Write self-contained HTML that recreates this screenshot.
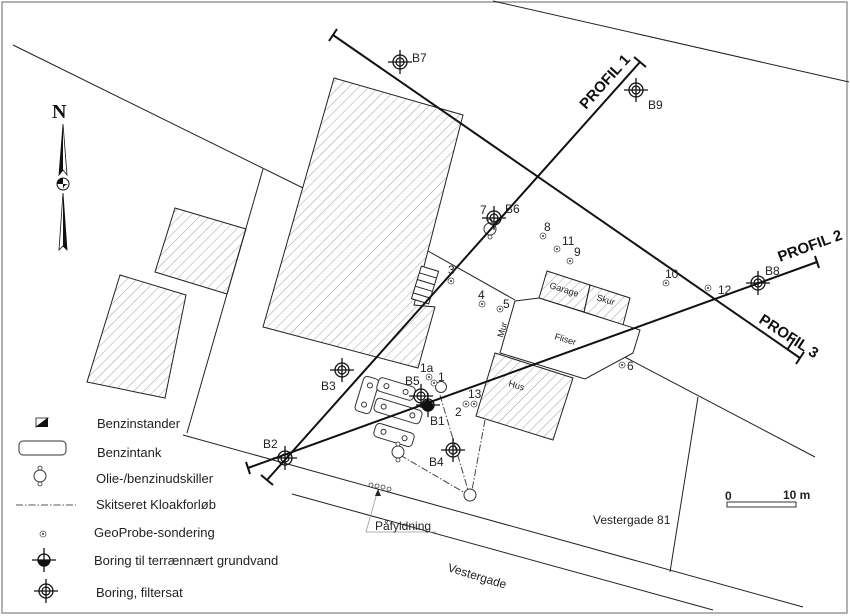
<!DOCTYPE html>
<html><head><meta charset="utf-8"><style>
html,body{margin:0;padding:0;background:#fff}
svg{display:block}
text{font-family:"Liberation Sans",sans-serif;fill:#222}
</style></head><body>
<svg width="850" height="616" viewBox="0 0 850 616" xmlns="http://www.w3.org/2000/svg">
<defs>
<pattern id="h" patternUnits="userSpaceOnUse" width="7" height="7" patternTransform="rotate(45)">
<line x1="0" y1="0" x2="0" y2="7" stroke="#888" stroke-width="0.8"/>
</pattern>
<g id="bf"><circle r="7" fill="none" stroke="#111" stroke-width="1.3"/><circle r="4" fill="none" stroke="#111" stroke-width="1.2"/><line x1="-12" y1="0" x2="12" y2="0" stroke="#111" stroke-width="1.3"/><line x1="0" y1="-12" x2="0" y2="12" stroke="#111" stroke-width="1.3"/></g>
<g id="gp"><circle r="3" fill="#fff" stroke="#555" stroke-width="0.8"/><circle r="1" fill="#333"/></g>
<g id="sep"><circle r="6" fill="#fff" stroke="#333" stroke-width="1"/><circle cy="-8" r="2" fill="#fff" stroke="#333" stroke-width="0.8"/><circle cy="8" r="2" fill="#fff" stroke="#333" stroke-width="0.8"/></g>
</defs>
<rect x="2" y="2" width="845" height="611" fill="#fff" stroke="#999" stroke-width="1.5"/>
<g stroke="#222" stroke-width="1" fill="none">
<line x1="13" y1="45" x2="303" y2="188"/>
<line x1="493" y1="1" x2="849" y2="82"/>
<line x1="263" y1="169" x2="187" y2="433"/>
<line x1="183" y1="435" x2="803" y2="607"/>
<line x1="292" y1="494" x2="713" y2="610"/>
<line x1="698" y1="397" x2="670" y2="572"/>
<line x1="617" y1="353" x2="815" y2="457"/>
<line x1="428" y1="251" x2="515" y2="300"/>
</g>
<g stroke="#222" stroke-width="1" fill="url(#h)">
<polygon points="334,78 463,115 414,305 435,307 418,368 263,327"/>
<polygon points="175,208 246,229 227,294 155,272"/>
<polygon points="120,275 186,295 165,398 87,382"/>
<polygon points="547,271 590,285 584,312 539,298"/>
<polygon points="590,285 630,298 623,325 584,312"/>
<polygon points="495,353 573,378 553,440 476,416"/>
</g>
<polygon points="515,301 539,298 640,330 633,353 585,379 500,353" fill="#fff" stroke="#222" stroke-width="1"/>
<g transform="translate(425,285) rotate(17)" stroke="#222" fill="#fff" stroke-width="1">
<rect x="-9" y="-17" width="18" height="34"/>
<line x1="-9" y1="-10" x2="9" y2="-10"/><line x1="-9" y1="-3" x2="9" y2="-3"/><line x1="-9" y1="4" x2="9" y2="4"/><line x1="-9" y1="11" x2="9" y2="11"/>
</g>
<!-- tanks -->
<g stroke="#333" fill="#fff" stroke-width="1">
<g transform="translate(367,395) rotate(17)"><rect x="-8" y="-18" width="16" height="36" rx="4"/><circle cy="-10" r="2.5"/><circle cy="10" r="2.5"/></g>
<g transform="translate(396,389) rotate(17)"><rect x="-19" y="-7" width="38" height="14" rx="4"/><circle cx="-10" r="2.5"/><circle cx="10" r="2.5"/></g>
<g transform="translate(398,411) rotate(17)"><rect x="-24" y="-7" width="48" height="14" rx="4"/><circle cx="-15" r="2.5"/><circle cx="15" r="2.5"/></g>
<g transform="translate(394,435) rotate(17)"><rect x="-20" y="-7" width="40" height="14" rx="4"/><circle cx="-11" r="2.5"/><circle cx="11" r="2.5"/></g>
</g>
<!-- sewer -->
<g stroke="#444" stroke-width="1" stroke-dasharray="7,2,1.5,2" fill="none">
<line x1="440" y1="395" x2="468" y2="490"/>
<line x1="485" y1="420" x2="472" y2="490"/>
<line x1="400" y1="455" x2="465" y2="493"/>
</g>
<use href="#sep" x="398" y="452"/>
<circle cx="470" cy="495" r="6" fill="#fff" stroke="#333"/>
<circle cx="441" cy="387" r="5.5" fill="#fff" stroke="#333"/>
<use href="#sep" x="490" y="229"/>
<!-- profiles -->
<g stroke="#111" stroke-width="2" fill="none">
<line x1="267" y1="480" x2="640" y2="62"/>
<line x1="248" y1="468" x2="817" y2="262"/>
<line x1="333" y1="35" x2="800" y2="358"/>
<line x1="261" y1="475" x2="273" y2="485"/><line x1="634" y1="57" x2="646" y2="67"/>
<line x1="246" y1="462" x2="250" y2="474"/><line x1="815" y1="256" x2="819" y2="268"/>
<line x1="337" y1="29" x2="329" y2="41"/><line x1="804" y1="352" x2="796" y2="364"/>
<line x1="795" y1="338" x2="787" y2="350"/>
</g>
<g font-weight="bold" font-size="15">
<text transform="translate(586,110) rotate(-48)" style="fill:#111">PROFIL 1</text>
<text transform="translate(780,262) rotate(-20)" style="fill:#111">PROFIL 2</text>
<text transform="translate(758,322) rotate(33)" style="fill:#111">PROFIL 3</text>
</g>
<!-- borings -->
<use href="#bf" x="400" y="62"/><use href="#bf" x="636" y="90"/><use href="#bf" x="494" y="218"/>
<use href="#bf" x="758" y="283"/><use href="#bf" x="342" y="370"/><use href="#bf" x="421" y="396"/>
<use href="#bf" x="453" y="450"/><use href="#bf" x="285" y="458"/>
<g transform="translate(428,405)"><path d="M-6,0 A6,6 0 0 0 6,0 Z" fill="#111"/><circle r="6" fill="none" stroke="#111" stroke-width="1.3"/><circle r="5" fill="#111"/><line x1="-12" y1="0" x2="12" y2="0" stroke="#111" stroke-width="1.3"/><line x1="0" y1="-12" x2="0" y2="12" stroke="#111" stroke-width="1.3"/></g>
<!-- geoprobe -->
<use href="#gp" x="543" y="236"/><use href="#gp" x="557" y="249"/><use href="#gp" x="570" y="261"/>
<use href="#gp" x="451" y="281"/><use href="#gp" x="482" y="304"/><use href="#gp" x="500" y="309"/>
<use href="#gp" x="666" y="283"/><use href="#gp" x="708" y="288"/><use href="#gp" x="622" y="365"/>
<use href="#gp" x="429" y="377"/><use href="#gp" x="434" y="383"/><use href="#gp" x="466" y="404"/><use href="#gp" x="474" y="404"/>
<g font-size="12">
<text x="544" y="231">8</text><text x="562" y="245">11</text><text x="574" y="256">9</text>
<text x="448" y="274">3</text><text x="478" y="299">4</text><text x="503" y="308">5</text>
<text x="665" y="278">10</text><text x="718" y="294">12</text><text x="627" y="370">6</text>
<text x="420" y="372">1a</text><text x="438" y="381">1</text><text x="468" y="398">13</text><text x="455" y="416">2</text>
<text x="430" y="425">B1</text><text x="405" y="385">B5</text><text x="429" y="466">B4</text>
<text x="321" y="390">B3</text><text x="263" y="448">B2</text><text x="412" y="62">B7</text>
<text x="648" y="109">B9</text><text x="765" y="275">B8</text><text x="480" y="214">7</text><text x="505" y="213">B6</text>
</g>
<g font-size="9">
<text transform="translate(549,288) rotate(17)">Garage</text>
<text transform="translate(596,300) rotate(17)">Skur</text>
<text transform="translate(554,339) rotate(17)">Fliser</text>
<text transform="translate(508,386) rotate(17)">Hus</text>
<text transform="translate(503,338) rotate(-74)">Mur</text>
</g>
<!-- påfyldning -->
<g stroke="#444" fill="#fff" stroke-width="0.8"><circle cx="371" cy="485" r="2"/><circle cx="377" cy="486" r="2"/><circle cx="383" cy="487" r="2"/><circle cx="389" cy="489" r="2"/></g>
<polyline points="436,532 366,532 377,493" fill="none" stroke="#999" stroke-width="0.8"/>
<polygon points="378,489 375,496 381,496" fill="#222"/>
<text x="375" y="530" font-size="12">Påfyldning</text>
<text x="593" y="524" font-size="12">Vestergade 81</text>
<text transform="translate(447,571) rotate(17)" font-size="12">Vestergade</text>
<!-- scale -->
<text x="725" y="500" font-size="12" font-weight="bold">0</text>
<text x="783" y="499" font-size="12" font-weight="bold">10 m</text>
<rect x="727" y="502" width="69" height="5" fill="#fff" stroke="#333" stroke-width="1"/>
<!-- north -->
<text x="52" y="118" font-family="Liberation Serif,serif" font-size="20" font-weight="bold" style="font-family:'Liberation Serif',serif;fill:#111">N</text>
<polygon points="63,124 59,175 63,170 67,175" fill="#fff" stroke="#111" stroke-width="0.8"/>
<polygon points="63,124 59,175 63,170" fill="#111"/>
<polygon points="63,193 59,250 63,246 67,250" fill="#fff" stroke="#111" stroke-width="0.8"/>
<polygon points="63,193 63,246 67,250" fill="#111"/>
<circle cx="63" cy="184" r="6" fill="#fff" stroke="#111"/>
<path d="M57,184 A6,6 0 0 1 63,178 L63,190 A6,6 0 0 1 69,184 Z" fill="#111"/>
<!-- legend -->
<rect x="36" y="418" width="12" height="9" fill="#111"/><polygon points="36,418 48,418 36,427" fill="#fff" stroke="#111" stroke-width="0.8"/>
<rect x="19" y="441" width="47" height="14" rx="4" fill="#fff" stroke="#333"/>
<use href="#sep" x="40" y="476"/>
<line x1="16" y1="505" x2="76" y2="505" stroke="#555" stroke-dasharray="7,2,1.5,2"/>
<use href="#gp" x="43" y="534"/>
<g transform="translate(44,560)"><circle r="6" fill="#fff" stroke="#111" stroke-width="1.3"/><path d="M-6,0 A6,6 0 0 0 6,0 Z" fill="#111"/><line x1="-12" y1="0" x2="12" y2="0" stroke="#111" stroke-width="1.3"/><line x1="0" y1="-12" x2="0" y2="12" stroke="#111" stroke-width="1.3"/></g>
<use href="#bf" x="46" y="591"/>
<g font-size="13">
<text x="97" y="428">Benzinstander</text>
<text x="97" y="457">Benzintank</text>
<text x="96" y="483">Olie-/benzinudskiller</text>
<text x="96" y="509">Skitseret Kloakforløb</text>
<text x="94" y="537">GeoProbe-sondering</text>
<text x="94" y="565">Boring til terrænnært grundvand</text>
<text x="96" y="597">Boring, filtersat</text>
</g>
</svg>
</body></html>
